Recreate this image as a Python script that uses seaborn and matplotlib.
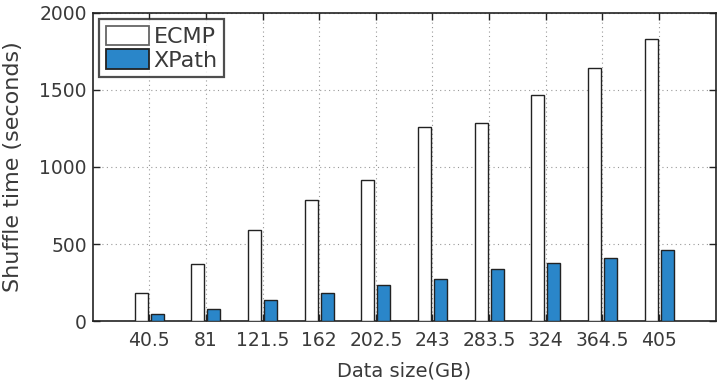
import matplotlib
matplotlib.use("Agg")
import matplotlib.pyplot as plt
import seaborn as sns
import pandas as pd
from matplotlib.patches import Patch

categories = ["40.5", "81", "121.5", "162", "202.5", "243", "283.5", "324", "364.5", "405"]
ecmp = [184, 368, 591, 786, 914, 1258, 1284, 1468, 1643, 1829]
xpath = [45, 76, 136, 184, 236, 271, 336, 375, 411, 459]
series = ["ECMP", "XPath"]

df = pd.DataFrame({
    "size": categories * 2,
    "time": ecmp + xpath,
    "scheme": [series[0]] * len(categories) + [series[1]] * len(categories),
})

sns.set_style("white")
plt.rcParams["font.family"] = ["DejaVu Sans"]
text_color = "#3a3a3a"

fig = plt.figure(figsize=(7.23, 3.81), dpi=100)
ax = fig.add_axes([0.128, 0.157, 0.862, 0.810])

sns.barplot(data=df, x="size", y="time", hue="scheme", order=categories,
            hue_order=series, palette={"ECMP": "white", "XPath": "#2a86c9"},
            width=0.56, gap=0.18, edgecolor="#222222", linewidth=1.0,
            saturation=1, ax=ax, legend=False, zorder=3)
for p in ax.patches:
    p.set_edgecolor("#222222")

ax.set_xlim(-1, 10)
ax.set_ylim(0, 2000)
ax.set_yticks([0, 500, 1000, 1500, 2000])
ax.grid(True, linestyle=(0, (1, 3)), color="#999999", linewidth=0.8, zorder=0)
ax.set_axisbelow(True)

for s in ax.spines.values():
    s.set_color("#222222")
    s.set_linewidth(1.2)
    s.set_visible(True)

ax.tick_params(direction="in", length=5, width=1, top=True, right=True,
               bottom=True, left=True, labelsize=13.5, colors="#222222",
               labelcolor=text_color)
ax.tick_params(axis="x", pad=7)
ax.tick_params(axis="y", pad=4)

ax.set_xlabel("Data size(GB)", fontsize=14, color=text_color, labelpad=8)
ax.set_ylabel("Shuffle time (seconds)", fontsize=16, color=text_color, labelpad=12)

handles = [Patch(facecolor="white", edgecolor="#666666", linewidth=1.3, label="ECMP"),
           Patch(facecolor="#2a86c9", edgecolor="#222222", linewidth=1.3, label="XPath")]
leg = ax.legend(handles=handles, loc="upper left", bbox_to_anchor=(0.0, 1.0),
                fontsize=16, frameon=True, fancybox=False, handlelength=1.95,
                handleheight=0.95, handletextpad=0.2, borderpad=0.3,
                labelspacing=0.1, borderaxespad=0.3)
leg.get_frame().set_edgecolor("#222222")
leg.get_frame().set_linewidth(1.6)
for t in leg.get_texts():
    t.set_color(text_color)

fig.savefig("out.png", dpi=100)
